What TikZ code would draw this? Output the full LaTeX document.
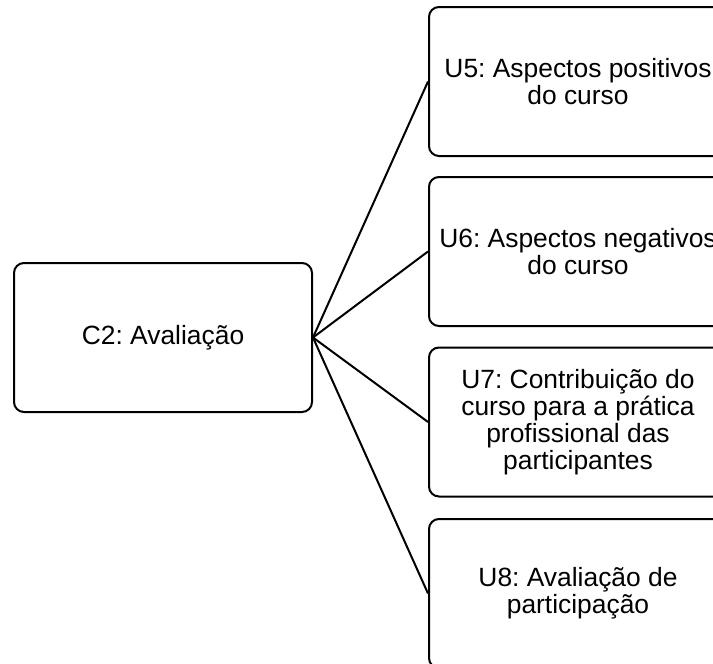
\documentclass[tikz,border=0pt]{standalone}
\usepackage{fontspec}
\setmainfont{Liberation Sans}
\usepackage{tikz}
\usetikzlibrary{positioning}
\frenchspacing

\begin{document}
\begin{tikzpicture}[x=0.5pt,y=-0.5pt,
        box/.style={draw,rectangle,rounded corners=5pt,line width=1pt,fill=white,
            minimum width=149pt,minimum height=74.5pt,align=center,
            font=\fontsize{13.2}{13.6}\selectfont}]
        \clip (0,0) rectangle (713,664);
        \useasboundingbox (0,0) rectangle (713,664);
        \path
        % category
        +(163,337.5) node[box] (c2) {C2: Avaliação}
        % units
        +(578,81.5)  node[box] (u5) {U5: Aspectos positivos\\do curso}
        +(578,251.5) node[box] (u6) {U6: Aspectos negativos\\do curso}
        +(578,422)   node[box] (u7) {U7: Contribuição do\\curso para a prática\\profissional das\\participantes}
        +(578,593.5) node[box] (u8) {U8: Avaliação de\\participação};
        \draw[line width=1pt] (c2.east)--(u5.west);
        \draw[line width=1pt] (c2.east)--(u6.west);
        \draw[line width=1pt] (c2.east)--(u7.west);
        \draw[line width=1pt] (c2.east)--(u8.west);
    \end{tikzpicture}
\end{document}
